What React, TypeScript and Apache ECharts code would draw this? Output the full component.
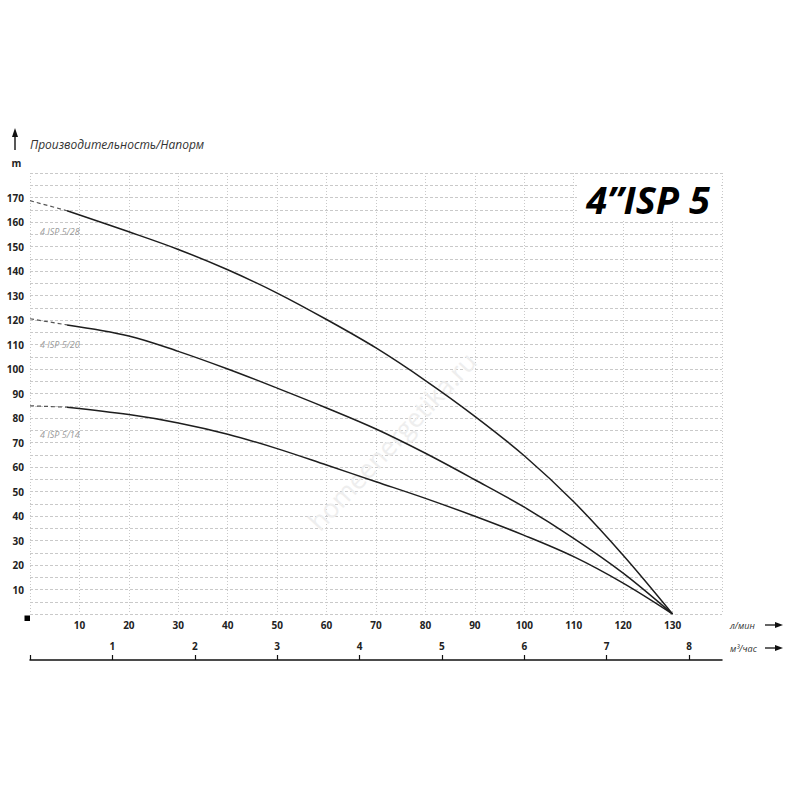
import React, { useEffect, useRef } from "react";
import * as echarts from "echarts";

// Flow points (l/min) where the solid part of each curve is sampled
const flowLpm = [7.5, 20, 30, 40, 50, 60, 70, 80, 90, 100, 110, 120, 130];

// Head (m) of each pump model along flowLpm
const head28 = [164.6, 156, 148.8, 140.5, 131, 120.2, 108.6, 95.3, 80.7, 64.6, 45.8, 24, 0];
const head20 = [118, 113.5, 107.2, 100, 92.2, 84.1, 75.5, 65.6, 54.8, 43.6, 30.9, 16.7, 0];
const head14 = [84.4, 81.4, 78, 73.4, 67.5, 60.8, 54, 47.2, 39.9, 32.1, 23.4, 12.6, 0];

// Shut-off head (m) at zero flow, drawn dashed up to the first sampled point
const shutoffHead28 = 168.7;
const shutoffHead20 = 120.5;
const shutoffHead14 = 85;

const modelNames = ["4 ISP 5/28", "4 ISP 5/20", "4 ISP 5/14"];

// 1 m³/h = 1000/60 l/min
const LPM_PER_M3H = 1000 / 60;
const FLOW_MAX_LPM = 140;

const FONT = "'Open Sans', 'DejaVu Sans', sans-serif";
const GRID_COLOR = "#c9c9c9";
const TEXT_COLOR = "#222";

function pairs(xs: number[], ys: number[]) {
  return xs.map((x, i) => [x, ys[i]]);
}

function curveSeries(name: string, shutoff: number, heads: number[]) {
  return [
    {
      name: name + " (shut-off)",
      type: "line",
      xAxisIndex: 0,
      yAxisIndex: 0,
      data: [
        [0, shutoff],
        [flowLpm[0], heads[0]],
      ],
      showSymbol: false,
      symbol: "none",
      lineStyle: { color: "#555", width: 1.2, type: [4, 3] },
      silent: true,
      z: 3,
    },
    {
      name,
      type: "line",
      xAxisIndex: 0,
      yAxisIndex: 0,
      data: pairs(flowLpm, heads),
      smooth: 0.35,
      showSymbol: false,
      symbol: "none",
      lineStyle: { color: "#1e1e1e", width: 1.5 },
      silent: true,
      z: 3,
    },
  ];
}

function arrowRight(x: number, y: number) {
  return [
    {
      type: "line",
      shape: { x1: x, y1: y, x2: x + 11, y2: y },
      style: { stroke: "#111", lineWidth: 1.3 },
    },
    {
      type: "polygon",
      shape: { points: [[x + 10, y - 3], [x + 18, y], [x + 10, y + 3]] },
      style: { fill: "#111" },
    },
  ];
}

export default function App() {
  const ref = useRef<HTMLDivElement>(null);

  useEffect(() => {
    if (!ref.current) return;
    const chart = echarts.init(ref.current, undefined, { renderer: "svg" });

    const option = {
      animation: false,
      backgroundColor: "#fff",
      grid: { left: 30, right: 78, top: 173, bottom: 186, containLabel: false },
      xAxis: [
        {
          type: "value",
          min: 0,
          max: FLOW_MAX_LPM,
          interval: 10,
          position: "bottom",
          axisLine: { show: false },
          axisTick: { show: false },
          axisLabel: {
            margin: 6,
            color: TEXT_COLOR,
            fontFamily: FONT,
            fontWeight: "bold",
            fontSize: 10,
            formatter: (v: number) => (v === 0 || v === FLOW_MAX_LPM ? "" : String(v)),
          },
          splitLine: {
            show: true,
            lineStyle: { color: GRID_COLOR, width: 1, type: [1, 2] },
          },
        },
        {
          type: "value",
          min: 0,
          max: FLOW_MAX_LPM / LPM_PER_M3H,
          interval: 1,
          position: "bottom",
          offset: 46,
          axisLine: { show: true, lineStyle: { color: "#111", width: 1.5 } },
          axisTick: { show: true, inside: true, length: 5, lineStyle: { color: "#111", width: 1.2 } },
          axisLabel: {
            inside: true,
            margin: 9,
            color: TEXT_COLOR,
            fontFamily: FONT,
            fontWeight: "bold",
            fontSize: 10,
            showMaxLabel: false,
            formatter: (v: number) => (v === 0 || v % 1 !== 0 ? "" : String(v)),
          },
          splitLine: { show: false },
        },
      ],
      yAxis: {
        type: "value",
        min: 0,
        max: 180,
        interval: 10,
        axisLine: { show: false },
        axisTick: { show: false },
        axisLabel: {
          margin: 6,
          color: TEXT_COLOR,
          fontFamily: FONT,
          fontWeight: "bold",
          fontSize: 10,
          formatter: (v: number) => (v === 0 || v === 180 ? "" : String(v)),
        },
        splitLine: {
          show: true,
          lineStyle: { color: GRID_COLOR, width: 1, type: [3, 2] },
        },
        minorTick: { show: false, splitNumber: 2 },
        minorSplitLine: {
          show: true,
          lineStyle: { color: GRID_COLOR, width: 1, type: [3, 2] },
        },
      },
      series: [
        ...curveSeries(modelNames[0], shutoffHead28, head28),
        ...curveSeries(modelNames[1], shutoffHead20, head20),
        ...curveSeries(modelNames[2], shutoffHead14, head14),
      ],
      graphic: [
        // watermark
        {
          type: "text",
          x: 392,
          y: 441,
          rotation: (47 * Math.PI) / 180,
          z: 1,
          silent: true,
          style: {
            text: "homeenergetika.ru",
            fill: "#eeeeee",
            font: `26px ${FONT}`,
            textAlign: "center",
            textVerticalAlign: "middle",
          },
        },
        // vertical axis caption with arrow
        {
          type: "line",
          shape: { x1: 15, y1: 150, x2: 15, y2: 135 },
          style: { stroke: "#111", lineWidth: 1.4 },
        },
        {
          type: "polygon",
          shape: { points: [[12, 137], [15, 128], [18, 137]] },
          style: { fill: "#111" },
        },
        {
          type: "text",
          x: 30,
          y: 144,
          style: {
            text: "Производительность/Напорм",
            fill: "#333",
            font: `italic 12px ${FONT}`,
            textVerticalAlign: "middle",
          },
        },
        {
          type: "text",
          x: 16.5,
          y: 163,
          style: {
            text: "m",
            fill: TEXT_COLOR,
            font: `bold 10px ${FONT}`,
            textAlign: "center",
            textVerticalAlign: "middle",
          },
        },
        // origin marker
        {
          type: "rect",
          shape: { x: 24.5, y: 615.5, width: 5.5, height: 5.5 },
          style: { fill: "#000" },
        },
        // axis units
        {
          type: "text",
          x: 730,
          y: 625,
          style: {
            text: "л/мин",
            fill: "#333",
            font: `italic 9px ${FONT}`,
            textVerticalAlign: "middle",
          },
        },
        ...arrowRight(765, 625),
        {
          type: "text",
          x: 730,
          y: 648,
          style: {
            text: "м³/час",
            fill: "#333",
            font: `italic 9px ${FONT}`,
            textVerticalAlign: "middle",
          },
        },
        ...arrowRight(765, 648),
        // model labels next to the curves
        {
          type: "text",
          x: 40,
          y: 231.5,
          z: 5,
          style: { text: modelNames[0], fill: "#9a9a9a", font: `italic 9px ${FONT}`, textVerticalAlign: "middle" },
        },
        {
          type: "text",
          x: 40,
          y: 344.5,
          z: 5,
          style: { text: modelNames[1], fill: "#9a9a9a", font: `italic 9px ${FONT}`, textVerticalAlign: "middle" },
        },
        {
          type: "text",
          x: 40,
          y: 434,
          z: 5,
          style: { text: modelNames[2], fill: "#9a9a9a", font: `italic 9px ${FONT}`, textVerticalAlign: "middle" },
        },
        // series title
        {
          type: "rect",
          z: 10,
          shape: { x: 577, y: 176, width: 144, height: 45 },
          style: { fill: "#fff" },
        },
        {
          type: "text",
          z: 11,
          x: 648,
          y: 199,
          style: {
            text: "4”ISP 5",
            fill: "#000",
            font: `italic bold 38px ${FONT}`,
            textAlign: "center",
            textVerticalAlign: "middle",
          },
        },
      ],
    };

    chart.setOption(option as any);
    return () => chart.dispose();
  }, []);

  return (
    <div
      ref={ref}
      style={{ position: "fixed", left: 0, top: 0, width: 800, height: 800 }}
    />
  );
}
